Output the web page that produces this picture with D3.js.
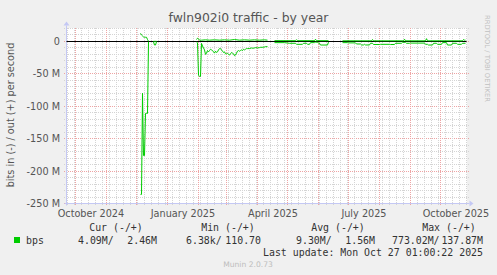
<!DOCTYPE html>
<html><head><meta charset="utf-8">
<script src="https://cdn.jsdelivr.net/npm/d3@7"></script>
<style>html,body{margin:0;padding:0;background:#F0F0F0;}svg{display:block}</style>
</head><body><svg id="c" width="497" height="275"></svg>
<script>
// ---- data ----
const title = "fwln902i0 traffic - by year";
const yLabel = "bits in (-) / out (+) per second";
const startDate = Date.UTC(2024, 8, 22, 1);   // 400 days shown
const endDate = Date.UTC(2025, 9, 27, 1);
const yMajor = [0, -50, -100, -150, -200, -250];            // Mbit/s
const yMajorLabels = ["0", "-50 M", "-100 M", "-150 M", "-200 M", "-250 M"];
const xLabelDates = ["2024-10-16", "2025-01-16", "2025-04-16", "2025-07-16", "2025-10-16"];
const xLabelTexts = ["October 2024", "January 2025", "April 2025", "July 2025", "October 2025"];

// day offsets from start; null marks a gap in the data
const inDays = [74,75,76,77,78,79,80,81,82, null,
  87,88,89,90, null,
  130,131,132,133,134,135,136,137,138,139,140,141,142,143,144,145,146,147,148,149,150,151,152,153,154,155,156,157,158,159,160,161,162,163,164,165,166,167,168,169,170,171,172,173,174,175,176,177,178,179,180,181,183,185,186,188,189,191,193,194,196,198,199,201, null,
  208,218,223,229,230,236,237,240,241,243,244,248,249,251,252,253,254,261,262, null,
  276,281,282,289,290,294,295,297,298,299,303,304,306,307,313,314,323,324,328,329,335,336,339,340,343,344,358,359,361,362,366,367,370,371,375,376,380,381,385,386,390,391,395,396,399];
const inMbps = [236,236,80,176,176,111,111,111,0.5, null,
  0.5,5.5,5.5,0.5, null,
  1,2,52,54,54,3,7,10,13,20,18,14,16,14,12,13,14,16,18,15,17,16,13,11,11,13,15,17,16,19,19,18,20,21,19,17,18,19,22,21,18,15,14,15,14,13,14,12,13,12,11,11,11,10,10.5,10,9.5,10,9.5,9,9,8.5,8,8, null,
  1.8,1.8,2.8,2.8,4.4,4.4,2.8,2.8,4.4,4.4,1.8,1.8,1.1,1.1,2.8,2.8,5.5,5.5,1, null,
  1.8,1.8,2.2,2.2,3.9,3.9,5.4,5.4,4.4,5.4,5.4,2.8,2.8,4.7,4.7,4.4,4.4,4.7,4.7,2.8,2.8,1.3,1.3,2.8,2.8,2.5,2.5,4.4,4.4,5.5,5.5,2.8,2.8,4.4,4.4,1.8,1.8,5.5,5.5,2.8,2.8,4.4,4.4,2.8,2.8];

const outDays = [74,75,76,77,78,79,80,81,82, null,
  87,88,89,90, null,
  130,131,132,133,135,139,143,148,153,158,163,168,173,178,183,188,193,198,201, null,
  208,229,230,231,248,249,250,262, null,
  276,305,306,307,337,338,339,359,360,361,396,397,398,399];
const outMbps = [12.5,10,8.5,7,6.5,6.5,6.5,3,0.3, null,
  0.2,0.2,0.2,0.2, null,
  3,5,4,2,2,2.5,2,2.5,2,2.5,2,3,2,2.5,2,2.5,2,2.5,2, null,
  1.2,1.2,2.8,1.2,1.2,3.4,1.2,1.2, null,
  1,1,3,1,1,3.5,1,1,4.3,1,1,3,2,2];

const legendHeaders = ["Cur (-/+)", "Min (-/+)", "Avg (-/+)", "Max (-/+)"];
const legendIn = ["4.09M/", "6.38k/", "9.30M/", "773.02M/"];
const legendOut = ["2.46M", "110.70", "1.56M", "137.87M"];
const lastUpdate = "Last update: Mon Oct 27 01:00:22 2025";

// ---- drawing ----
const svg = d3.select("#c");
const DAY = 864e5;
const X0 = 66.5, X1 = 466.5, YT = 28.5, YB = 203.5;
const x = d3.scaleUtc().domain([startDate, endDate]).range([X0, X1]);
const y = d3.scaleLinear().domain([-250, 20]).range([YB, YT]);
const sans = "'DejaVu Sans', Verdana, sans-serif";
const mono = "'DejaVu Sans Mono', monospace";
const green = "#00CC00";

svg.append("rect").attr("width", 497).attr("height", 275).attr("fill", "#F0F0F0");
svg.append("rect").attr("x", 67).attr("y", 28).attr("width", 400).attr("height", 176).attr("fill", "#fff");

const grid = svg.append("g").attr("stroke-dasharray", "1,1").attr("stroke-width", 1)
  .attr("fill", "none").attr("shape-rendering", "crispEdges");
const minorCol = "#d4d4d4", majorCol = "#eea4a4";

// horizontal grid
const yMinor = d3.range(-250, 21, 10).filter(v => v % 50 !== 0);
const hy = d => Math.round(y(d) - 0.5) + 0.5;
grid.selectAll("line.hm").data(yMinor).join("line")
  .attr("x1", 64).attr("x2", 470)
  .attr("y1", hy).attr("y2", hy)
  .attr("stroke", minorCol);
grid.selectAll("line.hM").data(yMajor).join("line")
  .attr("x1", 64).attr("x2", 470)
  .attr("y1", hy).attr("y2", hy)
  .attr("stroke", majorCol);

// vertical grid: weekly minor, monthly major
const months = d3.utcMonth.range(new Date(startDate), new Date(endDate));
const monthSet = new Set(months.map(d => +d));
const weeks = d3.utcMonday.range(new Date(startDate), new Date(endDate)).filter(d => !monthSet.has(+d));
const vx = d => Math.round(x(d) - 0.5) + 0.5;
grid.selectAll("line.vm").data(weeks).join("line")
  .attr("x1", vx).attr("x2", vx).attr("y1", 28).attr("y2", 206)
  .attr("stroke", minorCol);
grid.selectAll("line.vM").data(months).join("line")
  .attr("x1", vx).attr("x2", vx).attr("y1", 28).attr("y2", 206)
  .attr("stroke", majorCol);

// axes (rrdtool style)
const axCol = "#c4c8f4";
svg.append("line").attr("x1", X0 - 2).attr("x2", X1 + 3).attr("y1", YB).attr("y2", YB).attr("stroke", axCol);
svg.append("line").attr("x1", X0).attr("x2", X0).attr("y1", YB + 2).attr("y2", YT - 3).attr("stroke", axCol);
svg.append("path").attr("d", `M${X1 + 3},${YB - 3}L${X1 + 7},${YB}L${X1 + 3},${YB + 3}Z`).attr("fill", axCol);
svg.append("path").attr("d", `M${X0 - 3},${YT - 3}L${X0},${YT - 7}L${X0 + 3},${YT - 3}Z`).attr("fill", axCol);

// zero line
svg.append("line").attr("x1", X0).attr("x2", X1).attr("y1", Math.round(y(0)) + 0.5).attr("y2", Math.round(y(0)) + 0.5)
  .attr("stroke", "#000").attr("stroke-width", 1);

// series
const toPts = (days, vals, sign) => days.map((d, i) => ({ d, v: vals[i] == null ? null : sign * vals[i] }));
const line = d3.line()
  .defined(p => p.v != null)
  .x(p => x(new Date(startDate + p.d * DAY)))
  .y(p => y(p.v));
svg.append("path").datum(toPts(inDays, inMbps, -1)).attr("d", line)
  .attr("fill", "none").attr("stroke", green).attr("stroke-width", 1);
svg.append("path").datum(toPts(outDays, outMbps, 1)).attr("d", line)
  .attr("fill", "none").attr("stroke", green).attr("stroke-width", 1);

// y tick labels
svg.selectAll("text.yt").data(yMajor).join("text")
  .attr("x", 60).attr("y", d => y(d) + 3.5).attr("text-anchor", "end")
  .attr("font-family", sans).attr("font-size", 9.7).attr("fill", "#555")
  .text((d, i) => yMajorLabels[i]);

// x labels
svg.selectAll("text.xt").data(xLabelDates).join("text")
  .attr("x", d => x(new Date(d + "T12:00:00Z"))).attr("y", 216.5).attr("text-anchor", "middle")
  .attr("font-family", sans).attr("font-size", 9.7).attr("fill", "#555")
  .text((d, i) => xLabelTexts[i]);

// title & axis label
svg.append("text").attr("x", 248.5).attr("y", 21.5).attr("text-anchor", "middle")
  .attr("font-family", sans).attr("font-size", 12.4).attr("fill", "#555").text(title);
svg.append("text").attr("transform", "translate(13.5,115) rotate(-90)").attr("text-anchor", "middle")
  .attr("font-family", sans).attr("font-size", 9.7).attr("fill", "#555").text(yLabel);
svg.append("text").attr("transform", "translate(485,15) rotate(90)").attr("text-anchor", "start")
  .attr("font-family", sans).attr("font-size", 6.75).attr("fill", "#c0c0c0").text("RRDTOOL / TOBI OETIKER");

// legend
const hdrX = [116, 228, 338, 449];
svg.selectAll("text.lh").data(legendHeaders).join("text")
  .attr("x", (d, i) => hdrX[i]).attr("y", 230.5).attr("text-anchor", "middle")
  .attr("font-family", mono).attr("font-size", 9.9).attr("fill", "#333").text(d => d);
svg.append("rect").attr("x", 14).attr("y", 237).attr("width", 6).attr("height", 6).attr("fill", green);
svg.append("text").attr("x", 26).attr("y", 243.5).attr("font-family", mono).attr("font-size", 9.9).attr("fill", "#333").text("bps");
const inX = [78, 186, 296, 392], outX = [157, 261, 375, 483];
svg.selectAll("text.li").data(legendIn).join("text")
  .attr("x", (d, i) => inX[i]).attr("y", 243.5)
  .attr("font-family", mono).attr("font-size", 9.9).attr("fill", "#333").text(d => d);
svg.selectAll("text.lo").data(legendOut).join("text")
  .attr("x", (d, i) => outX[i]).attr("y", 243.5).attr("text-anchor", "end")
  .attr("font-family", mono).attr("font-size", 9.9).attr("fill", "#333").text(d => d);
svg.append("text").attr("x", 483).attr("y", 255.5).attr("text-anchor", "end")
  .attr("font-family", mono).attr("font-size", 9.9).attr("fill", "#333").text(lastUpdate);
svg.append("text").attr("x", 248).attr("y", 266.5).attr("text-anchor", "middle")
  .attr("font-family", sans).attr("font-size", 7.6).attr("fill", "#bdbdbd").text("Munin 2.0.73");
</script></body></html>
